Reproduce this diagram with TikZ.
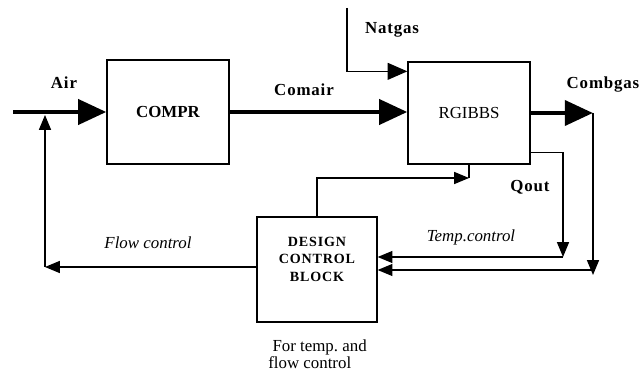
\documentclass[tikz,border=0pt]{standalone}
\usepackage{fontspec}
\setmainfont{Liberation Serif}
\usepackage{tikz}
\usetikzlibrary{arrows.meta, positioning, calc}

\tikzset{
  unitbox/.style={draw, line width=0.9pt, minimum width=3.05cm, minimum height=2.6cm, inner sep=0pt},
  stream/.style={line width=3.5pt, -{Triangle[length=20pt, width=17.5pt]}},
  signal/.style={line width=0.85pt, -{Triangle[length=10.5pt, width=8.5pt]}},
  feed/.style={line width=0.85pt, -{Triangle[length=14pt, width=12pt]}},
  lbl/.style={font=\fontsize{12}{14}\selectfont\bfseries\addfontfeatures{LetterSpace=5}},
  ital/.style={font=\fontsize{12}{14}\selectfont\itshape},
}

\begin{document}
\begin{tikzpicture}[x=0.025cm, y=-0.025cm]
  \useasboundingbox (0,0) rectangle (644,373);

  \node[unitbox, font=\fontsize{12}{14}\selectfont\bfseries] (compr) at (168,112) {COMPR};
  \node[unitbox, minimum height=2.55cm, font=\fontsize{12}{14}\selectfont] (rgibbs) at (469,113) {RGIBBS};
  \node[unitbox, minimum width=3cm, minimum height=2.625cm] (dcb) at (317,269.5) {};
  \node[font=\fontsize{10}{12.5}\selectfont\bfseries\addfontfeatures{LetterSpace=6}, align=center] (dcbtext) at (317,259) {DESIGN\\CONTROL\\BLOCK};

  \coordinate (airin) at (13,112);
  \coordinate (natin) at (347,8);
  \coordinate (cgout) at (593,113);
  \coordinate (cgdown) at (593,270);
  \coordinate (qdown) at (563,257);
  \coordinate (fbjoin) at (471,178);
  \coordinate (flowc) at (45,267);

  \draw[stream] (airin) -- (compr.west);
  \draw[stream] (compr.east) -- (compr.east -| rgibbs.west);
  \draw[feed] (natin) |- ($(rgibbs.north west)+(0,10)$);
  \draw[stream] (rgibbs.east) -- (cgout);
  \draw[signal] (cgout) -- ($(cgdown)+(0,5)$);
  \draw[signal] (cgdown) -- (cgdown -| dcb.east);
  \draw[signal] ($(rgibbs.south east)+(0,-12)$) -| (qdown);
  \draw[signal] (qdown) -- (qdown -| dcb.east);
  \draw[line width=0.85pt] (rgibbs.south) -- (rgibbs.south |- fbjoin);
  \draw[signal] (dcb.north) |- (rgibbs.south |- fbjoin);
  \draw[signal] (dcb.west |- flowc) -- (flowc);
  \draw[signal] (flowc) -- ($(flowc |- airin)+(0,3)$);

  \node[lbl] (airlbl) at (64,83) {Air};
  \node[lbl] (comairlbl) at (304,90) {Comair};
  \node[lbl] (natlbl) at (392,30) {Natgas};
  \node[lbl] (cglbl) at (603,85) {Combgas};
  \node[lbl] (qoutlbl) at (530,187) {Qout};
  \node[ital] (templbl) at (471,237) {Temp.control};
  \node[ital] (flowlbl) at (148,243) {Flow control};
  \node[font=\fontsize{12}{11}\selectfont, align=left, anchor=west, inner sep=0pt] (notelbl) at (268,354) {\hspace*{3pt}For temp.\ and\\flow control};
\end{tikzpicture}
\end{document}
